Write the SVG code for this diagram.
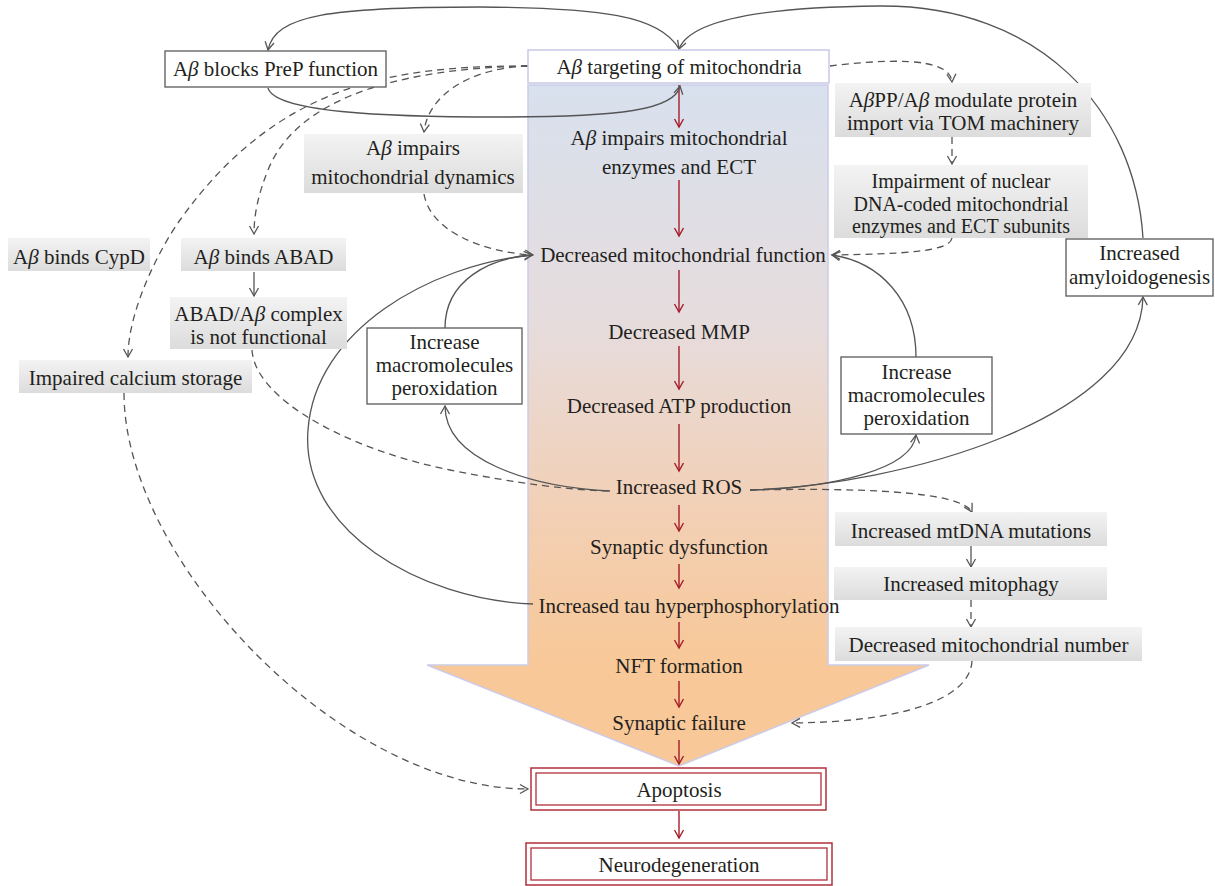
<svg xmlns="http://www.w3.org/2000/svg" width="1215" height="886" viewBox="0 0 1215 886">
<style>
.t{font-family:"Liberation Serif","Times New Roman",serif;font-size:21px;fill:#231f20;text-anchor:middle}
.s{font-size:20px}
.i{font-style:italic}
.g{fill:url(#gbox)}
.w{fill:#fff;stroke:#595959;stroke-width:1.3}
.c{fill:none;stroke:#555;stroke-width:1.3;marker-end:url(#ah)}
.cn{fill:none;stroke:#555;stroke-width:1.3}
.d{stroke-dasharray:7,5}
.r{fill:none;stroke:#a51d2a;stroke-width:1.4;marker-end:url(#rh)}
.rb{fill:#fff;stroke:#b3303c;stroke-width:1.5}
</style>
<defs>
<linearGradient id="gbox" x1="0" y1="0" x2="0" y2="1">
<stop offset="0" stop-color="#f3f3f3"/>
<stop offset="1" stop-color="#dcdcdc"/>
</linearGradient>
<linearGradient id="body" gradientUnits="userSpaceOnUse" x1="0" y1="84" x2="0" y2="766">
<stop offset="0" stop-color="#d8e1ee"/>
<stop offset="0.35" stop-color="#e6dcdd"/>
<stop offset="0.62" stop-color="#f2d0b6"/>
<stop offset="0.85" stop-color="#f8c898"/>
<stop offset="1" stop-color="#f8c898"/>
</linearGradient>
<marker id="ah" markerUnits="userSpaceOnUse" markerWidth="12" markerHeight="12" viewBox="0 0 12 12" refX="10" refY="6" orient="auto">
<path d="M2,1.5 L10,6 L2,10.5" fill="none" stroke="#555" stroke-width="1.3"/>
</marker>
<marker id="rh" markerUnits="userSpaceOnUse" markerWidth="12" markerHeight="12" viewBox="0 0 12 12" refX="10" refY="6" orient="auto">
<path d="M2,1.5 L10,6 L2,10.5" fill="none" stroke="#a51d2a" stroke-width="1.4"/>
</marker>
</defs>

<g id="big-arrow">
<path d="M528 85 L828 85 L828 665 L929 665 L679 766 L427 665 L528 665 Z" fill="url(#body)" stroke="#cbcbe8" stroke-width="1.5"/>
</g>

<g id="connectors">
<path class="r" d="M679 85 V127"/>
<path class="r" d="M679 180 V236"/>
<path class="r" d="M679 270 V312"/>
<path class="r" d="M679 346 V389"/>
<path class="r" d="M679 424 V471"/>
<path class="r" d="M679 505 V531"/>
<path class="r" d="M679 564 V588"/>
<path class="r" d="M679 622 V648"/>
<path class="r" d="M679 681 V707"/>
<path class="r" d="M679 740 V764"/>
<path class="r" d="M679 811 V838"/>
<path class="c" d="M1143 238 C1135 110 1040 5 880 6 C760 7 690 20 679 49"/>
<path class="c" d="M679 49 C660 15 600 8 480 7 C330 7 275 15 268 50"/>
<path class="c" d="M268 88 C275 112 380 117 500 117 C620 117 675 110 680 86"/>
<path class="c d" d="M528 66 C400 66 280 80 180 220 C160 248 128 310 128 357"/>
<path class="c d" d="M528 66 C420 68 300 90 268 170 C258 195 254 215 254 234"/>
<path class="c d" d="M528 66 C470 68 428 95 424 132"/>
<path class="c d" d="M424 194 C430 230 480 252 533 255"/>
<path class="c" d="M254 272 V296"/>
<path class="cn d" d="M252 350 C255 400 350 450 450 470 C520 484 570 490 610 491"/>
<path class="c d" d="M124 393 C124 560 340 789 528 789"/>
<path class="c" d="M533 604 C420 600 300 530 308 430 C315 330 430 265 532 255"/>
<path class="c" d="M610 491 C530 487 445 460 445 406"/>
<path class="cn" d="M445 328 C445 280 490 258 532 255"/>
<path class="c d" d="M830 66 C880 60 950 55 952 82"/>
<path class="c d" d="M952 137 V164"/>
<path class="c d" d="M952 238 C950 252 900 254 832 255"/>
<path class="c" d="M916 357 C916 300 880 262 832 255"/>
<path class="c" d="M750 490 C830 488 912 470 916 435"/>
<path class="c" d="M750 490 C900 485 1140 420 1143 297"/>
<path class="c d" d="M750 490 C850 488 960 490 972 512"/>
<path class="c" d="M971 546 V567"/>
<path class="c d" d="M971 600 V627"/>
<path class="c d" d="M972 661 C970 700 900 722 792 723"/>
</g>

<g id="n-targeting">
<rect x="528" y="50" width="301" height="33" fill="#fff" stroke="#c8c8e6" stroke-width="1.5"/>
<text class="t" x="679" y="74">A<tspan class="i">β</tspan> targeting of mitochondria</text>
</g>
<g id="n-prep">
<rect class="w" x="165" y="51" width="221" height="36"/>
<text class="t" x="275.5" y="76">A<tspan class="i">β</tspan> blocks PreP function</text>
</g>
<g id="n-dynamics">
<rect class="g" x="304" y="134" width="219" height="59"/>
<text class="t" x="413" y="155">A<tspan class="i">β</tspan> impairs</text>
<text class="t" x="413" y="184">mitochondrial dynamics</text>
</g>
<g id="n-cypd">
<rect class="g" x="8" y="238" width="142" height="33"/>
<text class="t" x="79" y="264">A<tspan class="i">β</tspan> binds CypD</text>
</g>
<g id="n-abad">
<rect class="g" x="181" y="238" width="165" height="33"/>
<text class="t" x="263.5" y="264">A<tspan class="i">β</tspan> binds ABAD</text>
</g>
<g id="n-complex">
<rect class="g" x="170" y="297" width="177" height="52"/>
<text class="t" x="258.5" y="321">ABAD/A<tspan class="i">β</tspan> complex</text>
<text class="t" x="258.5" y="344">is not functional</text>
</g>
<g id="n-calcium">
<rect class="g" x="19" y="360" width="233" height="33"/>
<text class="t" x="135.5" y="385">Impaired calcium storage</text>
</g>
<g id="n-perox-left">
<rect class="w" x="367" y="328" width="155" height="76"/>
<text class="t" x="444.5" y="349">Increase</text>
<text class="t" x="444.5" y="372">macromolecules</text>
<text class="t" x="444.5" y="395">peroxidation</text>
</g>
<g id="n-appabeta">
<rect class="g" x="835" y="83" width="256" height="54"/>
<text class="t" x="963" y="107">A<tspan class="i">β</tspan>PP/A<tspan class="i">β</tspan> modulate protein</text>
<text class="t" x="963" y="130">import via TOM machinery</text>
</g>
<g id="n-impairment">
<rect class="g" x="834" y="165" width="254" height="73"/>
<text class="t s" x="961" y="188">Impairment of nuclear</text>
<text class="t s" x="961" y="210.5">DNA-coded mitochondrial</text>
<text class="t s" x="961" y="233">enzymes and ECT subunits</text>
</g>
<g id="n-amyloid">
<rect class="w" x="1066" y="239" width="147" height="57"/>
<text class="t" x="1139.5" y="260">Increased</text>
<text class="t" x="1139.5" y="284">amyloidogenesis</text>
</g>
<g id="n-perox-right">
<rect class="w" x="841" y="357" width="151" height="77"/>
<text class="t" x="916.5" y="379">Increase</text>
<text class="t" x="916.5" y="402">macromolecules</text>
<text class="t" x="916.5" y="425">peroxidation</text>
</g>
<g id="n-mtdna">
<rect class="g" x="835" y="512" width="272" height="34"/>
<text class="t" x="971" y="538">Increased mtDNA mutations</text>
</g>
<g id="n-mitophagy">
<rect class="g" x="834" y="567" width="273" height="33"/>
<text class="t" x="971" y="591">Increased mitophagy</text>
</g>
<g id="n-number">
<rect class="g" x="835" y="627" width="307" height="34"/>
<text class="t" x="988.5" y="652">Decreased mitochondrial number</text>
</g>

<g id="n-enzymes"><text class="t" x="679" y="145">A<tspan class="i">β</tspan> impairs mitochondrial</text><text class="t" x="679" y="174">enzymes and ECT</text></g>
<g id="n-decfunc"><text class="t" x="683" y="262">Decreased mitochondrial function</text></g>
<g id="n-mmp"><text class="t" x="679" y="339">Decreased MMP</text></g>
<g id="n-atp"><text class="t" x="679" y="413">Decreased ATP production</text></g>
<g id="n-ros"><text class="t" x="679" y="494">Increased ROS</text></g>
<g id="n-synd"><text class="t" x="679" y="554">Synaptic dysfunction</text></g>
<g id="n-tau"><text class="t" x="689" y="613">Increased tau hyperphosphorylation</text></g>
<g id="n-nft"><text class="t" x="679" y="673">NFT formation</text></g>
<g id="n-synf"><text class="t" x="679" y="730">Synaptic failure</text></g>

<g id="n-apoptosis">
<rect class="rb" x="531" y="768" width="295" height="42"/>
<rect fill="none" stroke="#b3303c" stroke-width="1.3" x="536" y="773" width="285" height="32"/>
<text class="t" x="679" y="797">Apoptosis</text>
</g>
<g id="n-neuro">
<rect class="rb" x="526" y="843" width="306" height="42"/>
<rect fill="none" stroke="#b3303c" stroke-width="1.3" x="531" y="848" width="296" height="32"/>
<text class="t" x="679" y="872">Neurodegeneration</text>
</g>
</svg>
